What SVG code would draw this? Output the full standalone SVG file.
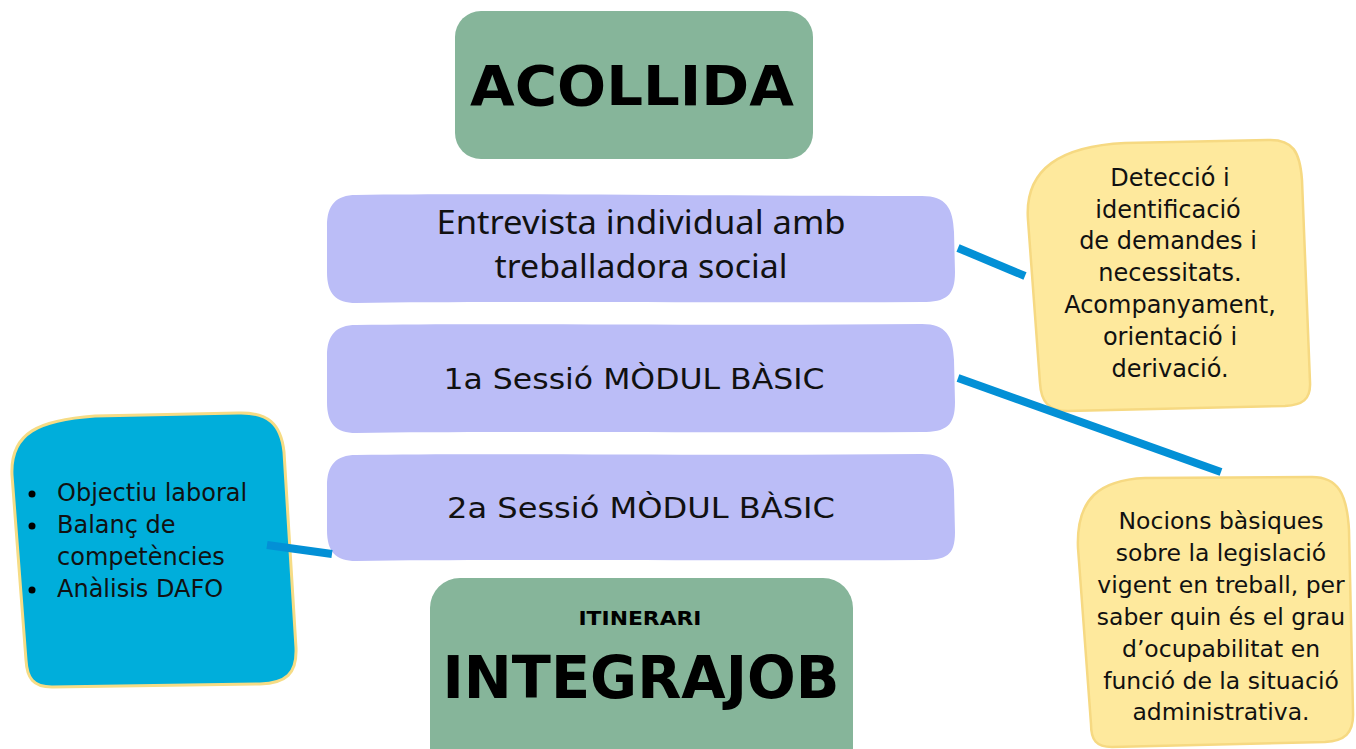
<svg xmlns="http://www.w3.org/2000/svg" width="1356" height="749" viewBox="0 0 1356 749">
<style>
.title{fill:#86b59a}
.step{fill:#bbbdf7}
.note{fill:#fee99d;stroke:#f6d982;stroke-width:2.5}
.blue{fill:#00aedb;stroke:#f6dc85;stroke-width:3}
.t{font-family:"DejaVu Sans","Liberation Sans",sans-serif;fill:#111}
.tb{font-family:"DejaVu Sans","Liberation Sans",sans-serif;font-weight:bold;fill:#000}
.tn{font-family:"Noto Sans","Open Sans",sans-serif;fill:#111}
.conn{stroke:#0390d6;stroke-width:8;fill:none}
</style>
<rect width="1356" height="749" fill="#fff"/>
<g id="acollida">
<rect class="title" x="455" y="11" width="358" height="148" rx="26"/>
<text class="tb" x="632" y="105" font-size="56" text-anchor="middle" textLength="324" lengthAdjust="spacingAndGlyphs">ACOLLIDA</text>
</g>
<g id="entrevista">
<path class="step" d="M356,195 C500,193 700,196 922,196 C946,196 953,208 954,232 L955,272 C955,296 946,302 922,302 C700,303 500,301 356,303 C336,303 327,294 327,272 L327,226 C327,205 336,195 356,195 Z"/>
<text class="tn" x="641" y="234" font-size="32" text-anchor="middle" textLength="409" lengthAdjust="spacingAndGlyphs">Entrevista individual amb</text>
<text class="tn" x="641" y="278" font-size="32" text-anchor="middle" textLength="293" lengthAdjust="spacingAndGlyphs">treballadora social</text>
</g>
<g id="sessio1">
<path class="step" d="M356,325 C500,323 700,326 922,324 C946,324 953,336 954,360 L955,402 C955,426 946,432 922,432 C700,433 500,431 356,433 C336,433 327,424 327,402 L327,356 C327,335 336,325 356,325 Z"/>
<text class="t" x="634" y="389" font-size="28" text-anchor="middle" textLength="381" lengthAdjust="spacingAndGlyphs">1a Sessió MÒDUL BÀSIC</text>
</g>
<g id="sessio2">
<path class="step" d="M356,455 C500,453 700,456 922,454 C946,454 953,466 954,490 L955,532 C955,556 946,560 922,560 C700,561 500,559 356,561 C336,561 327,552 327,530 L327,486 C327,465 336,455 356,455 Z"/>
<text class="t" x="641" y="518" font-size="28" text-anchor="middle" textLength="388" lengthAdjust="spacingAndGlyphs">2a Sessió MÒDUL BÀSIC</text>
</g>
<g id="integrajob">
<rect class="title" x="430" y="578" width="423" height="200" rx="30"/>
<text class="tb" x="640" y="625" font-size="20" text-anchor="middle" textLength="123" lengthAdjust="spacingAndGlyphs">ITINERARI</text>
<text class="tb" x="641" y="698" font-size="59" text-anchor="middle" textLength="397" lengthAdjust="spacingAndGlyphs">INTEGRAJOB</text>
</g>
<g id="nota-deteccio">
<path class="note" d="M1028,220 C1024,168 1062,146 1125,143 L1268,140 C1293,139 1300,152 1302,180 L1310,382 C1311,400 1302,405 1285,406 L1068,411 C1048,411 1041,401 1040,383 Z"/>
<g class="t" font-size="24" text-anchor="middle">
<text x="1170" y="186">Detecció i</text>
<text x="1168" y="218">identificació</text>
<text x="1168" y="249">de demandes i</text>
<text x="1170" y="281">necessitats.</text>
<text x="1170" y="313">Acompanyament,</text>
<text x="1170" y="345">orientació i</text>
<text x="1170" y="377">derivació.</text>
</g>
</g>
<g id="nota-nocions">
<path class="note" d="M1078,548 C1076,498 1100,480 1145,478 L1312,477 C1338,477 1347,494 1349,530 L1353,712 C1354,734 1344,741 1325,742 L1112,747 C1096,747 1091,740 1091,724 Z"/>
<g class="t" font-size="23.5" text-anchor="middle">
<text x="1221" y="529">Nocions bàsiques</text>
<text x="1221" y="561">sobre la legislació</text>
<text x="1221" y="593">vigent en treball, per</text>
<text x="1221" y="625">saber quin és el grau</text>
<text x="1221" y="657">d’ocupabilitat en</text>
<text x="1221" y="689">funció de la situació</text>
<text x="1221" y="720">administrativa.</text>
</g>
</g>
<g id="objectius">
<path class="blue" d="M12,475 C10,432 40,420 95,416 L238,413 C268,412 281,424 284,452 L296,648 C297,674 286,683 260,684 L52,687 C33,687 27,678 26,660 Z"/>
<g fill="#000">
<circle cx="32" cy="494" r="3.5"/>
<circle cx="32" cy="526" r="3.5"/>
<circle cx="32" cy="590" r="3.5"/>
</g>
<g class="t" font-size="24">
<text x="57" y="501">Objectiu laboral</text>
<text x="57" y="533">Balanç de</text>
<text x="57" y="565">competències</text>
<text x="57" y="597">Anàlisis DAFO</text>
</g>
</g>
<g id="connectors">
<line class="conn" x1="958" y1="248" x2="1025" y2="276"/>
<line class="conn" x1="958" y1="378" x2="1221" y2="472"/>
<line class="conn" x1="267" y1="545" x2="332" y2="554"/>
</g>
</svg>
